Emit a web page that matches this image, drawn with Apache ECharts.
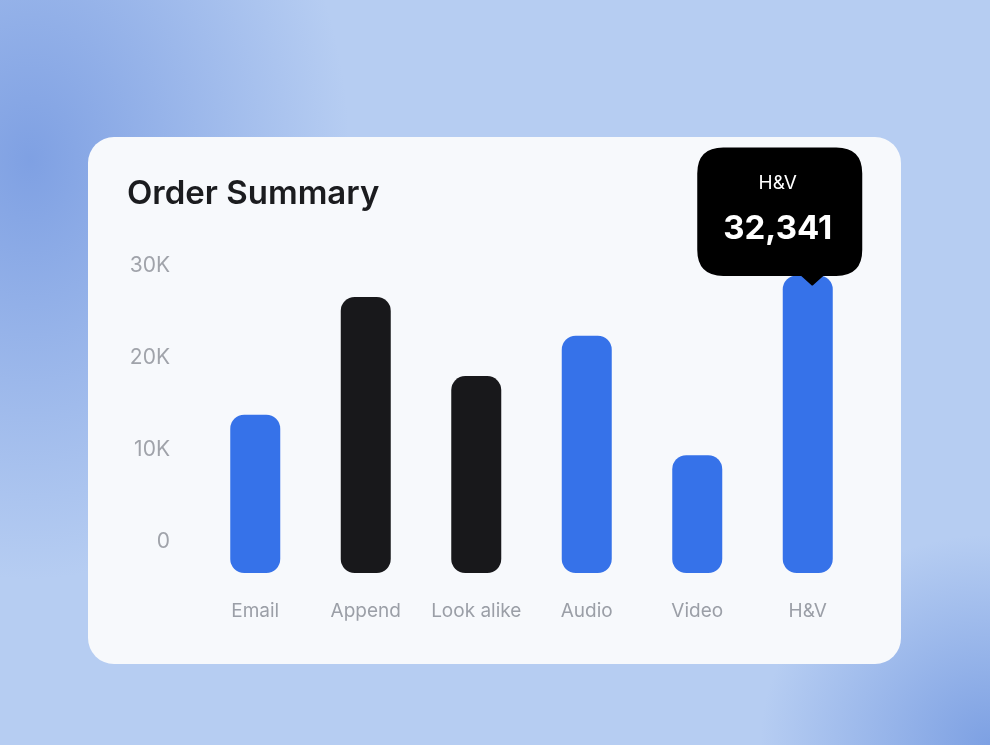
<!DOCTYPE html>
<html>
<head>
<meta charset="utf-8">
<script src="https://cdn.jsdelivr.net/npm/echarts@6/dist/echarts.min.js"></script>
<style>
  html, body { margin: 0; padding: 0; width: 990px; height: 745px; overflow: hidden; }
  body {
    background:
      radial-gradient(ellipse 320px 420px at 30px 160px, rgba(124,158,226,0.95), rgba(124,158,226,0) 100%),
      radial-gradient(ellipse 230px 210px at 990px 745px, rgba(122,158,226,0.95), rgba(122,158,226,0) 100%),
      #b6cdf2;
  }
  .card {
    position: absolute; left: 88px; top: 137px; width: 813px; height: 527px;
    background: #f7f9fc; border-radius: 26px;
  }
  #chart { position: absolute; left: 0; top: 0; width: 990px; height: 745px; }
</style>
</head>
<body>
<div class="card"></div>
<div id="chart"></div>
<script>
// chart data
const categories = ['Email', 'Append', 'Look alike', 'Audio', 'Video', 'H&V'];
const orders = [17200, 30000, 21400, 25800, 12800, 32341];
const barColors = ['#3672e9', '#18181b', '#18181b', '#3672e9', '#3672e9', '#3672e9'];
const yTicks = [0, 10000, 20000, 30000];

const maxIdx = orders.indexOf(Math.max(...orders));

// speech bubble shape for the callout
const bubble = 'path://M26 0 H139 Q165 0 165 26 V102 Q165 128 139 128 H126 L116 137 Q115 138 114 137 L104 128 H26 Q0 128 0 102 V26 Q0 0 26 0 Z';

const chart = echarts.init(document.getElementById('chart'));
chart.setOption({
  backgroundColor: 'transparent',
  animation: false,
  textStyle: { fontFamily: 'Inter, "Noto Sans", sans-serif' },
  title: {
    text: 'Order Summary',
    left: 127, top: 178, padding: 0,
    textStyle: { fontSize: 33, fontWeight: 600, color: '#1b1c1f', fontFamily: 'Inter, sans-serif' }
  },
  grid: { left: 200, right: 127, top: 205, bottom: 172 },
  xAxis: {
    type: 'category',
    data: categories,
    axisLine: { show: false },
    axisTick: { show: false },
    axisLabel: { color: '#9b9fa7', fontSize: 19, margin: 29, interval: 0 }
  },
  yAxis: {
    type: 'value',
    min: 0, max: 40000, interval: 10000,
    splitLine: { show: false },
    axisLine: { show: false },
    axisTick: { show: false },
    axisLabel: {
      color: '#a0a3aa', fontSize: 21, margin: 30,
      verticalAlign: 'bottom', lineHeight: 20, padding: [0, 0, 21, 0],
      formatter: v => yTicks.includes(v) ? (v === 0 ? '0' : (v / 1000) + 'K') : ''
    }
  },
  series: [{
    type: 'bar',
    barWidth: 50,
    data: orders.map((v, i) => ({ value: v, itemStyle: { color: barColors[i] } })),
    itemStyle: { borderRadius: 14 },
    markPoint: {
      symbol: bubble,
      symbolSize: [165, 138],
      symbolOffset: [-28, -59],
      symbolKeepAspect: false,
      itemStyle: { color: '#000000' },
      data: [{ type: 'max' }],
      label: {
        show: true,
        position: 'inside',
        offset: [-2, -10],
        formatter: () => '{a|' + categories[maxIdx] + '}\n{b|' + orders[maxIdx].toLocaleString('en-US') + '}',
        rich: {
          a: { color: '#ffffff', fontSize: 19, lineHeight: 46, fontFamily: 'Inter, sans-serif' },
          b: { color: '#ffffff', fontSize: 33, fontWeight: 700, lineHeight: 46, fontFamily: 'Inter, sans-serif' }
        }
      }
    }
  }]
});
</script>
</body>
</html>
